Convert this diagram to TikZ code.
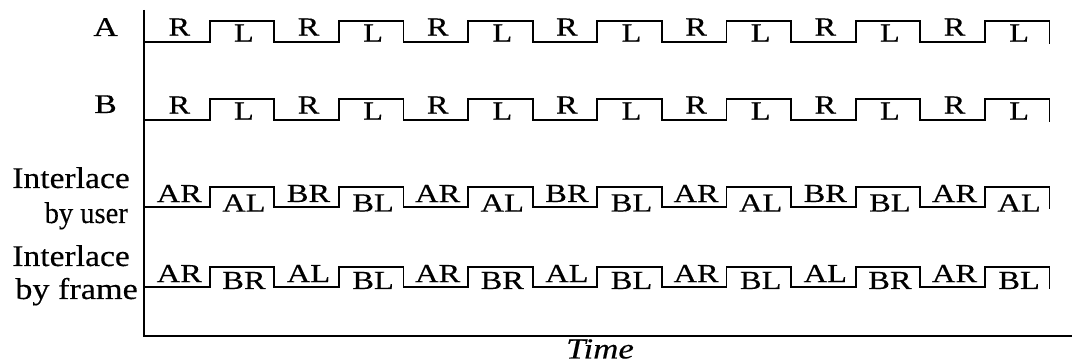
\documentclass[tikz,border=0pt]{standalone}
\usepackage{graphicx}
\usepackage{fontspec}
\setmainfont{Liberation Serif}
\newfontfamily\sigfont[FakeStretch=1.25,FakeBold=0.4]{Liberation Serif}
\newfontfamily\rowfont[FakeBold=0.3]{Liberation Serif}
\newfontfamily\timefont[FakeStretch=1.2,FakeBold=0.3]{Liberation Serif}

% one square-wave row: #1 name prefix, #2 low level, #3 high level,
% #4 segment labels, #5 label rise over low level, #6 label drop under high level
\newcommand\waverow[6]{%
  \foreach \lab [count=\k from 0] in {#4} {%
    \pgfmathsetmacro\xa{145+64.6*\k}%
    \pgfmathsetmacro\xb{145+64.6*(\k+1)}%
    \pgfmathsetmacro\xc{(\xa+\xb)/2+2}%
    \ifodd\k
      \draw[wave] (\xa,#2) -- (\xa,#3) -- (\xb,#3);
      \node[siglabel] (#1\k) at (\xc,#3+#6) {\lab};
    \else
      \ifnum\k>0 \draw[wave] (\xa,#3) -- (\xa,#2); \fi
      \draw[wave] (\xa,#2) -- (\xb,#2);
      \node[siglabel] (#1\k) at (\xc,#2-#5) {\lab};
    \fi
  }%
  \draw[wave] (145+64.6*14,#3) -- (145+64.6*14,#2+1);
}

\begin{document}
\begin{tikzpicture}[x=1pt,y=-1pt,
  wave/.style={line width=1.8pt, line cap=rect},
  axis/.style={line width=2.2pt},
  siglabel/.style={font=\sigfont\fontsize{26}{26}\selectfont, inner sep=0pt},
  rowlabel/.style={font=\rowfont\fontsize{30}{30}\selectfont, inner sep=0pt, anchor=base east},
  rowletter/.style={font=\sigfont\fontsize{27}{27}\selectfont, inner sep=0pt, anchor=base east},
]
\useasboundingbox (0,0) rectangle (1072,363);

% axes
\coordinate (ytop) at (144,10);
\coordinate (origin) at (144,336);
\coordinate (xend) at (1072,336);
\draw[axis] (ytop) -- (origin) -- (xend);
\node[font=\timefont\itshape\fontsize{29}{29}\selectfont, inner sep=0pt] (time) at (600,349) {Time};

% row labels
\node[rowletter] (labA) at (118,36) {A};
\node[rowletter] (labB) at (117,113) {B};
\node[rowlabel] (labU1) at (130,188) {\scalebox{1.12}[1]{Interlace}};
\node[rowlabel] (labU2) at (128,223) {\scalebox{0.95}[1]{by user}};
\node[rowlabel] (labF1) at (130,266) {\scalebox{1.12}[1]{Interlace}};
\node[rowlabel] (labF2) at (138,299) {\scalebox{1.14}[1]{by frame}};

% signals
\waverow{a}{42}{21}{R,L,R,L,R,L,R,L,R,L,R,L,R,L}{15}{12}
\waverow{b}{120}{99}{R,L,R,L,R,L,R,L,R,L,R,L,R,L}{15}{12}
\waverow{u}{207}{187}{AR,AL,BR,BL,AR,AL,BR,BL,AR,AL,BR,BL,AR,AL}{13.5}{16}
\waverow{f}{287}{267}{AR,BR,AL,BL,AR,BR,AL,BL,AR,BL,AL,BR,AR,BL}{13.5}{13.5}
\end{tikzpicture}
\end{document}
